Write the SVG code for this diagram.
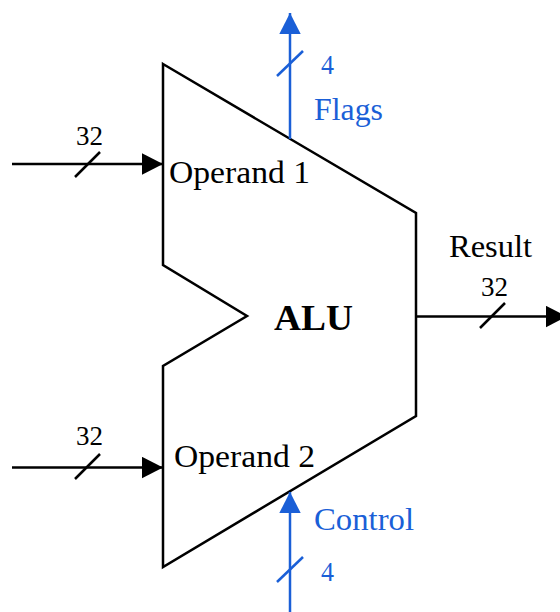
<svg xmlns="http://www.w3.org/2000/svg" width="560" height="612" viewBox="0 0 560 612">
  <style>
    .blk { stroke: #000; stroke-width: 2.5; fill: none; }
    .blu { stroke: #1a5fd7; stroke-width: 2.5; fill: none; }
    .t { font-family: "Liberation Serif", "Times New Roman", serif; font-size: 31px; fill: #000; }
    .n { font-family: "Liberation Serif", "Times New Roman", serif; font-size: 27px; fill: #000; }
    .alu { font-family: "Liberation Serif", "Times New Roman", serif; font-size: 36px; font-weight: bold; fill: #000; }
    .tb { fill: #1a5fd7; }
  </style>
  <defs>
    <marker id="ab" markerUnits="userSpaceOnUse" markerWidth="22" markerHeight="22" refX="21" refY="10.7" orient="auto">
      <path d="M0,0 L21,10.7 L0,21.4 z" fill="#000"/>
    </marker>
    <marker id="au" markerUnits="userSpaceOnUse" markerWidth="22" markerHeight="22" refX="21" refY="10.7" orient="auto">
      <path d="M0,0 L21,10.7 L0,21.4 z" fill="#1a5fd7"/>
    </marker>
  </defs>

  <g id="alu">
    <polygon class="blk" stroke-linejoin="miter" points="163,64 416,213 416,416 163,567 163,366 247,316 163,265"/>
    <text class="alu" x="274" y="330" textLength="79" lengthAdjust="spacingAndGlyphs">ALU</text>
    <text class="t" x="169" y="183" textLength="141" lengthAdjust="spacingAndGlyphs">Operand 1</text>
    <text class="t" x="174" y="467" textLength="141" lengthAdjust="spacingAndGlyphs">Operand 2</text>
  </g>

  <g id="connectors">
    <g id="in1">
      <line class="blk" x1="12" y1="164" x2="163" y2="164" marker-end="url(#ab)"/>
      <line class="blk" x1="75" y1="177" x2="100" y2="152"/>
      <text class="n" x="76" y="145" textLength="27" lengthAdjust="spacingAndGlyphs">32</text>
    </g>
    <g id="in2">
      <line class="blk" x1="12" y1="467.5" x2="163" y2="467.5" marker-end="url(#ab)"/>
      <line class="blk" x1="75" y1="479" x2="100" y2="454"/>
      <text class="n" x="76" y="445" textLength="27" lengthAdjust="spacingAndGlyphs">32</text>
    </g>
    <g id="out">
      <line class="blk" x1="416" y1="316.5" x2="567" y2="316.5" marker-end="url(#ab)"/>
      <line class="blk" x1="480" y1="328" x2="505" y2="303"/>
      <text class="t" x="449" y="257" textLength="83" lengthAdjust="spacingAndGlyphs">Result</text>
      <text class="n" x="481" y="296" textLength="27" lengthAdjust="spacingAndGlyphs">32</text>
    </g>
    <g id="flags">
      <line class="blu" x1="290" y1="139" x2="290" y2="13" marker-end="url(#au)"/>
      <line class="blu" x1="277" y1="76" x2="303" y2="51"/>
      <text class="n tb" x="321" y="74" textLength="13" lengthAdjust="spacingAndGlyphs">4</text>
      <text class="t tb" x="314" y="120" textLength="69" lengthAdjust="spacingAndGlyphs">Flags</text>
    </g>
    <g id="control">
      <line class="blu" x1="290" y1="612" x2="290" y2="492" marker-end="url(#au)"/>
      <line class="blu" x1="277" y1="582" x2="303" y2="557"/>
      <text class="n tb" x="321" y="581" textLength="13" lengthAdjust="spacingAndGlyphs">4</text>
      <text class="t tb" x="314" y="530" textLength="100" lengthAdjust="spacingAndGlyphs">Control</text>
    </g>
  </g>
</svg>
